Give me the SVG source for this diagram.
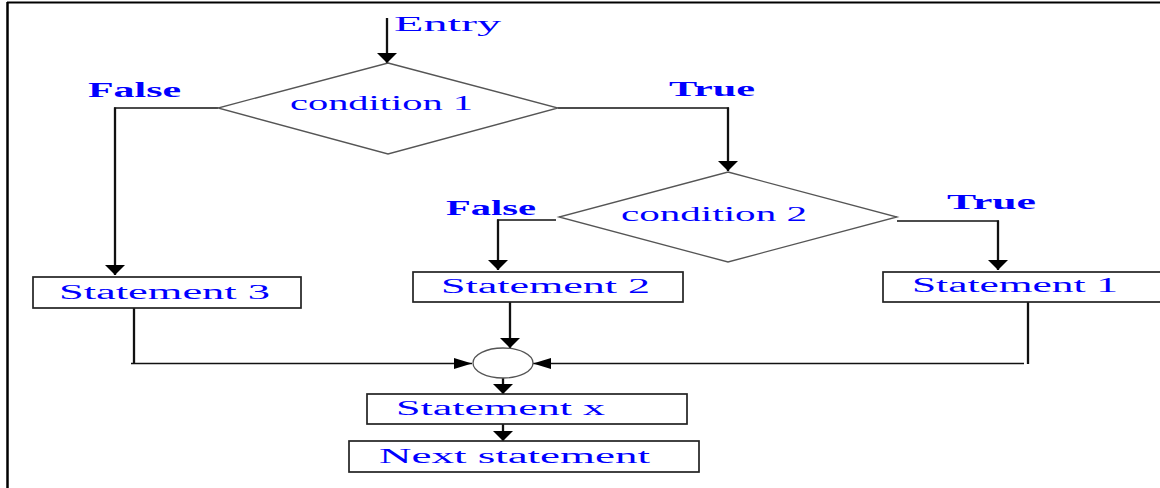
<svg xmlns="http://www.w3.org/2000/svg" width="1160" height="488" viewBox="0 0 1160 488">
<style>
.lbl{font-family:"Liberation Serif","Times New Roman",serif;fill:#0000ff;font-size:20px}
.bold{font-weight:bold}
.box{fill:#ffffff;stroke:#222222;stroke-width:1.7}
.dia{fill:#ffffff;stroke:#555555;stroke-width:1.3}
.h{fill:none;stroke:#111111;stroke-width:1.3}
.v{fill:none;stroke:#111111;stroke-width:2.3}
.frame{fill:none;stroke:#000000}
</style>
<defs>
<marker id="aV" viewBox="0 0 10 20" markerWidth="10" markerHeight="20" refX="10" refY="10" orient="auto" markerUnits="userSpaceOnUse"><path d="M0,0 L10,10 L0,20 z" fill="#000"/></marker>
<marker id="aH" viewBox="0 0 18 11" markerWidth="18" markerHeight="11" refX="18" refY="5.5" orient="auto" markerUnits="userSpaceOnUse"><path d="M0,0 L18,5.5 L0,11 z" fill="#000"/></marker>
</defs>
<rect x="0" y="0" width="1160" height="488" fill="#ffffff"/>
<line class="frame" x1="7" y1="2.5" x2="1160" y2="2.5" stroke-width="2"/>
<line class="frame" x1="7.5" y1="2" x2="7.5" y2="488" stroke-width="2.5"/>

<g id="connectors">
<line class="v" x1="387" y1="18" x2="387" y2="63" marker-end="url(#aV)"/>
<line class="h" x1="218" y1="108" x2="114" y2="108"/>
<line class="v" x1="115" y1="107.5" x2="115" y2="275" marker-end="url(#aV)"/>
<line class="h" x1="558" y1="108" x2="729" y2="108"/>
<line class="v" x1="728" y1="107.5" x2="728" y2="171" marker-end="url(#aV)"/>
<line class="h" x1="556" y1="220" x2="497" y2="220"/>
<line class="v" x1="498" y1="219.5" x2="498" y2="270" marker-end="url(#aV)"/>
<line class="h" x1="897" y1="221" x2="999" y2="221"/>
<line class="v" x1="998" y1="220.5" x2="998" y2="270" marker-end="url(#aV)"/>
<line class="v" x1="510" y1="302" x2="510" y2="348" marker-end="url(#aV)"/>
<line class="v" x1="134" y1="308" x2="134" y2="364"/>
<line class="h" x1="131" y1="363.5" x2="472" y2="363.5" marker-end="url(#aH)"/>
<line class="v" x1="1028" y1="302" x2="1028" y2="364"/>
<line class="h" x1="1024" y1="363.5" x2="533" y2="363.5" marker-end="url(#aH)"/>
<line class="v" x1="503" y1="378" x2="503" y2="394" marker-end="url(#aV)"/>
<line class="v" x1="503" y1="424" x2="503" y2="441" marker-end="url(#aV)"/>
</g>

<g id="entry">
<text class="lbl" x="394" y="31" font-size="25" textLength="107" lengthAdjust="spacingAndGlyphs">Entry</text>
</g>

<g id="condition1">
<polygon class="dia" points="388,63 558,108 388,154 218,108"/>
<text class="lbl" x="290" y="110" textLength="183" lengthAdjust="spacingAndGlyphs">condition 1</text>
</g>
<g id="label-false1"><text class="lbl bold" x="88" y="97" font-size="21" textLength="93" lengthAdjust="spacingAndGlyphs">False</text></g>
<g id="label-true1"><text class="lbl bold" x="669" y="96" textLength="86" lengthAdjust="spacingAndGlyphs">True</text></g>

<g id="condition2">
<polygon class="dia" points="728,172 897,217 728,262 559,217"/>
<text class="lbl" x="621" y="221" textLength="186" lengthAdjust="spacingAndGlyphs">condition 2</text>
</g>
<g id="label-false2"><text class="lbl bold" x="446" y="215" textLength="90" lengthAdjust="spacingAndGlyphs">False</text></g>
<g id="label-true2"><text class="lbl bold" x="947" y="209" textLength="89" lengthAdjust="spacingAndGlyphs">True</text></g>

<g id="statement3">
<rect class="box" x="33" y="277" width="268" height="31"/>
<text class="lbl" x="59" y="299" textLength="211" lengthAdjust="spacingAndGlyphs">Statement 3</text>
</g>
<g id="statement2">
<rect class="box" x="413" y="272" width="270" height="30"/>
<text class="lbl" x="441" y="293" textLength="209" lengthAdjust="spacingAndGlyphs">Statement 2</text>
</g>
<g id="statement1">
<rect class="box" x="883" y="272" width="300" height="30"/>
<text class="lbl" x="912" y="292" textLength="206" lengthAdjust="spacingAndGlyphs">Statement 1</text>
</g>
<g id="junction">
<ellipse class="dia" cx="503" cy="363" rx="30" ry="15"/>
</g>
<g id="statementx">
<rect class="box" x="367" y="394" width="320" height="30"/>
<text class="lbl" x="396" y="415" textLength="209" lengthAdjust="spacingAndGlyphs">Statement x</text>
</g>
<g id="nextstatement">
<rect class="box" x="349" y="441" width="350" height="31"/>
<text class="lbl" x="379" y="463" textLength="271" lengthAdjust="spacingAndGlyphs">Next statement</text>
</g>
</svg>
